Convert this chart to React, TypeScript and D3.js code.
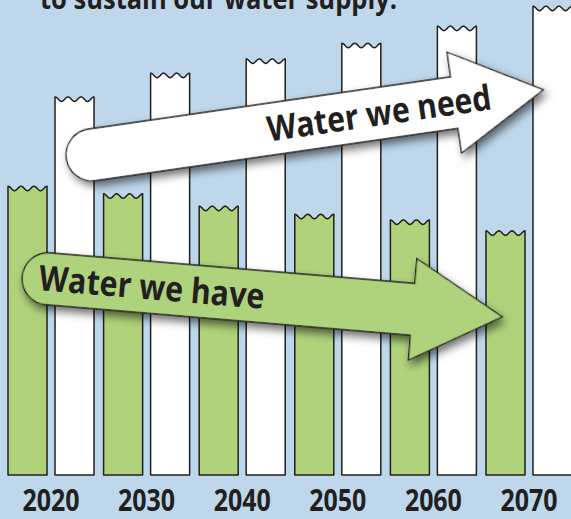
import React, { useEffect, useRef } from "react";
import * as d3 from "d3";

const years = [2020, 2030, 2040, 2050, 2060, 2070];
const waterWeHave = [60.8, 59.2, 56.6, 54.9, 53.7, 51.4];
const waterWeNeed = [79.6, 84.6, 87.6, 90.9, 94.5, 98.7];
const seriesKeys = ["have", "need"];
const seriesFill = ["#afd27b", "#ffffff"];
const title = "to sustain our water supply.";

// trend arrows in data units: [year, value]
const arrowNeed = { from: [2024.3, 67.4], to: [2071.5, 81.1], label: "Water we need", at: 0.636, fill: "#ffffff" };
const arrowHave = { from: [2019.7, 41.3], to: [2067.2, 33.3], label: "Water we have", at: 0.228, fill: "#afd27b" };

const W = 571;
const H = 519;
const ink = "#231f20";

function App() {
  const ref = useRef<SVGSVGElement>(null);

  useEffect(() => {
    const svg = d3.select(ref.current);
    svg.selectAll("*").remove();

    const x0 = d3.scaleBand<number>().domain(years).range([8, 572]).paddingInner(0.1).paddingOuter(0);
    const x1 = d3.scaleBand<string>().domain(seriesKeys).range([0, x0.bandwidth()]).paddingInner(0.17);
    const y = d3.scaleLinear().domain([0, 100]).range([475, 0]);
    // continuous year position (pair centres) for the annotation arrows
    const xYear = d3
      .scaleLinear()
      .domain([2020, 2070])
      .range([x0(2020)! + x0.bandwidth() / 2, x0(2070)! + x0.bandwidth() / 2]);

    const defs = svg.append("defs");
    const f = defs.append("filter").attr("id", "shadow").attr("x", "-20%").attr("y", "-40%").attr("width", "140%").attr("height", "180%");
    f.append("feDropShadow")
      .attr("dx", 3)
      .attr("dy", 5)
      .attr("stdDeviation", 4)
      .attr("flood-color", "#000")
      .attr("flood-opacity", 0.55);

    svg.append("rect").attr("width", W).attr("height", H).attr("fill", "#bed7ea");

    const line = d3.line<[number, number]>();
    const amp = 4.5;
    const wavyBar = (xa: number, xb: number, top: number, bottom: number) => {
      const pts: [number, number][] = [[xa, bottom]];
      const n = 48;
      for (let i = 0; i <= n; i++) {
        const t = i / n;
        pts.push([xa + t * (xb - xa), top + (amp * (1 - Math.cos(2 * Math.PI * 3 * t))) / 2]);
      }
      pts.push([xb, bottom]);
      return line(pts) + "Z";
    };

    const values = [waterWeHave, waterWeNeed];
    years.forEach((yr, i) => {
      seriesKeys.forEach((k, s) => {
        const xa = x0(yr)! + x1(k)!;
        svg
          .append("path")
          .attr("d", wavyBar(xa, xa + x1.bandwidth(), y(values[s][i]), y(0)))
          .attr("fill", seriesFill[s])
          .attr("stroke", ink)
          .attr("stroke-width", 1.5)
          .attr("stroke-linejoin", "round");
      });
    });

    // arrows
    const drawArrow = (a: typeof arrowNeed) => {
      const ax = xYear(a.from[0]);
      const ay = y(a.from[1]);
      const bx = xYear(a.to[0]);
      const by = y(a.to[1]);
      const len = Math.hypot(bx - ax, by - ay);
      const ang = (Math.atan2(by - ay, bx - ax) * 180) / Math.PI;
      const hw = 26; // body half width
      const hh = 51; // head half width
      const hl = 90; // head length
      const g = svg.append("g").attr("transform", `translate(${ax},${ay}) rotate(${ang})`);
      const p = d3.path();
      p.moveTo(0, -hw);
      p.lineTo(len - hl, -hw);
      p.lineTo(len - hl, -hh);
      p.lineTo(len, 0);
      p.lineTo(len - hl, hh);
      p.lineTo(len - hl, hw);
      p.lineTo(0, hw);
      p.arc(0, 0, hw, Math.PI / 2, -Math.PI / 2, false);
      p.closePath();
      g.append("path")
        .attr("d", p.toString())
        .attr("fill", a.fill)
        .attr("stroke", ink)
        .attr("stroke-width", 1.3)
        .attr("filter", "url(#shadow)");
      g.append("text")
        .attr("x", len * a.at)
        .attr("y", 12)
        .attr("text-anchor", "middle")
        .attr("textLength", 226)
        .attr("lengthAdjust", "spacingAndGlyphs")
        .attr("font-family", "'Open Sans', sans-serif")
        .attr("font-weight", 700)
        .attr("font-size", 35)
        .attr("fill", ink)
        .text(a.label);
    };
    drawArrow(arrowNeed);
    drawArrow(arrowHave);

    // title (cut off at the top, as in the source)
    svg
      .append("text")
      .attr("x", 40)
      .attr("y", 9)
      .attr("textLength", 357)
      .attr("lengthAdjust", "spacingAndGlyphs")
      .attr("font-family", "'Open Sans', sans-serif")
      .attr("font-weight", 700)
      .attr("font-size", 29)
      .attr("fill", ink)
      .text(title);

    // year labels
    svg
      .selectAll(".year")
      .data(years)
      .join("text")
      .attr("class", "year")
      .attr("x", (d) => x0(d)! + x0.bandwidth() / 2)
      .attr("y", 511)
      .attr("text-anchor", "middle")
      .attr("textLength", 57)
      .attr("lengthAdjust", "spacingAndGlyphs")
      .attr("font-family", "'Open Sans', sans-serif")
      .attr("font-weight", 700)
      .attr("font-size", 30)
      .attr("fill", ink)
      .text((d) => d);
  }, []);

  return (
    <svg
      ref={ref}
      width={W}
      height={H}
      style={{ position: "absolute", left: 0, top: 0, display: "block" }}
    />
  );
}

export default App;
